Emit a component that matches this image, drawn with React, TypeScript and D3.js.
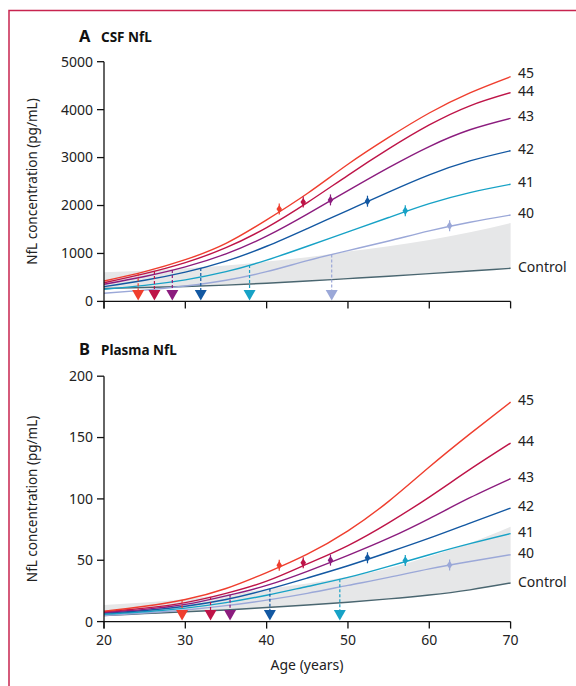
import React from "react";
import * as d3 from "d3";

const ages = [20, 25, 30, 35, 40, 45, 50, 55, 60, 65, 70];
const groups = ["45", "44", "43", "42", "41", "40"];
const colors = ["#ef3e2e", "#be1448", "#8b1c7e", "#1358a2", "#17a2c6", "#9ba8d8"];
const controlColor = "#4a6670";
const bandColor = "#e6e7e8";

const csf45 = [425, 620, 870, 1210, 1700, 2250, 2860, 3420, 3930, 4350, 4687];
const csf44 = [390, 580, 810, 1120, 1540, 2060, 2630, 3180, 3680, 4080, 4354];
const csf43 = [356, 520, 720, 990, 1360, 1820, 2310, 2790, 3230, 3580, 3819];
const csf42 = [307, 440, 610, 840, 1150, 1520, 1900, 2280, 2640, 2930, 3143];
const csf41 = [252, 335, 450, 620, 860, 1150, 1450, 1750, 2040, 2270, 2443];
const csf40 = [169, 235, 320, 440, 620, 850, 1060, 1260, 1470, 1650, 1802];
const csfControl = [270, 290, 310, 340, 380, 425, 475, 525, 580, 635, 690];
const csfBandUpper = [610, 640, 690, 750, 830, 920, 1040, 1150, 1280, 1440, 1635];

const pl45 = [8.5, 12.5, 18, 27, 40, 55, 74, 98, 126, 153, 178.9];
const pl44 = [8, 11, 15.5, 23, 33, 47, 62, 80.5, 101.5, 124, 145.5];
const pl43 = [7.5, 10, 14, 21, 29.5, 41, 54, 68, 84, 101, 116.5];
const pl42 = [7, 9, 12.5, 18, 26, 35.5, 45.5, 56.5, 68, 80.3, 92.5];
const pl41 = [6, 8, 11, 15.5, 21.5, 28.6, 36, 45, 54.5, 63.5, 71.7];
const pl40 = [5, 7, 9.5, 13, 17.5, 23, 29.5, 36, 43, 49, 54.5];
const plControl = [5, 6.5, 8, 9.5, 11.5, 13.5, 15.8, 18.5, 21.7, 25.9, 31.5];
const plBandUpper = [13.6, 15.5, 18.5, 22, 26.5, 31, 36.5, 43.5, 53, 64, 77.4];

const csfOnset = [24.2, 26.2, 28.4, 31.9, 37.9, 48.0];
const plOnset: (number | null)[] = [29.6, 33.1, 35.5, 40.4, 49.0, null];

const eyoAges = [41.55, 44.5, 47.85, 52.4, 57.05, 62.5];
const csfDiamond = [1925, 2071, 2117, 2090, 1890, 1579];
const plDiamond = [45.9, 48, 50.1, 52, 49.8, 46.2];

const csfTicks = [0, 1000, 2000, 3000, 4000, 5000];
const plTicks = [0, 50, 100, 150, 200];
const ageTicks = [20, 30, 40, 50, 60, 70];

const FONT = "'Noto Sans', 'Open Sans', sans-serif";

type PanelProps = {
  letter: string;
  title: string;
  series: number[][];
  control: number[];
  band: number[];
  onset: (number | null)[];
  diamonds: number[];
  yMax: number;
  yTicks: number[];
  y0: number;
  y1: number;
  titleY: number;
  showXLabels: boolean;
  labelShift: number[];
};

const x = d3.scaleLinear().domain([20, 70]).range([104, 510.6]);

function Panel(p: PanelProps) {
  const y = d3.scaleLinear().domain([0, p.yMax]).range([p.y0, p.y1]);
  const line = d3
    .line<number>()
    .x((_, i) => x(ages[i]))
    .y((d) => y(d))
    .curve(d3.curveNatural);
  const area = d3
    .area<number>()
    .x((_, i) => x(ages[i]))
    .y0((_, i) => y(p.control[i]))
    .y1((d) => y(d))
    .curve(d3.curveNatural);
  const interp = (vals: number[], a: number) =>
    d3.scaleLinear().domain(ages).range(vals)(a);
  const axisY = p.y0;
  const midY = (p.y0 + p.y1) / 2;

  return (
    <g>
      <text x={79} y={p.titleY} fontFamily={FONT} fontWeight={700} fontSize={16.5} fill="#111">
        {p.letter}
      </text>
      <text x={101} y={p.titleY} fontFamily={FONT} fontWeight={700} fontSize={13.5} fill="#111">
        {p.title}
      </text>
      <path d={area(p.band) || ""} fill={bandColor} />
      <path d={line(p.control) || ""} fill="none" stroke={controlColor} strokeWidth={1.4} />
      {p.series
        .map((s, i) => ({ s, i }))
        .reverse()
        .map(({ s, i }) => (
          <path key={i} d={line(s) || ""} fill="none" stroke={colors[i]} strokeWidth={1.4} />
        ))}
      {p.onset.map((a, i) => {
        if (a === null) return null;
        const cx = x(a);
        const top = y(interp(p.series[i], a));
        const triTop = axisY - 11.5;
        return (
          <g key={"on" + i}>
            <line x1={cx} x2={cx} y1={top} y2={triTop} stroke={colors[i]} strokeWidth={1.2} strokeDasharray="3,2" />
            <path
              d={`M${cx - 6},${triTop} L${cx + 6},${triTop} L${cx},${axisY - 1} Z`}
              fill={colors[i]}
            />
          </g>
        );
      })}
      {p.diamonds.map((v, i) => {
        const cx = x(eyoAges[i]);
        const cy = y(v);
        return (
          <g key={"dm" + i}>
            <line x1={cx} x2={cx} y1={cy - 5.5} y2={cy + 5.5} stroke={colors[i]} strokeWidth={1.2} />
            <path d={`M${cx},${cy - 4.2} L${cx + 2.8},${cy} L${cx},${cy + 4.2} L${cx - 2.8},${cy} Z`} fill={colors[i]} />
          </g>
        );
      })}
      <line x1={x(20)} x2={x(20)} y1={p.y1} y2={axisY + 7} stroke="#111" strokeWidth={1.3} />
      <line x1={x(20)} x2={x(70)} y1={axisY} y2={axisY} stroke="#111" strokeWidth={1.3} />
      {p.yTicks.map((t) => (
        <g key={"yt" + t}>
          <line x1={x(20) - 7} x2={x(20)} y1={y(t)} y2={y(t)} stroke="#111" strokeWidth={1.3} />
          <text
            x={x(20) - 11}
            y={y(t)}
            dy="0.35em"
            textAnchor="end"
            fontFamily={FONT}
            fontSize={14}
            fill="#222"
          >
            {t}
          </text>
        </g>
      ))}
      {ageTicks.map((t) => (
        <g key={"xt" + t}>
          <line x1={x(t)} x2={x(t)} y1={axisY} y2={axisY + 7} stroke="#111" strokeWidth={1.3} />
          {p.showXLabels && (
            <text x={x(t)} y={axisY + 23} textAnchor="middle" fontFamily={FONT} fontSize={14} fill="#222">
              {t}
            </text>
          )}
        </g>
      ))}
      <text
        transform={`translate(32,${midY}) rotate(-90)`}
        textAnchor="middle"
        dy="0.35em"
        fontFamily={FONT}
        fontSize={13.5}
        fill="#222"
      >
        NfL concentration (pg/mL)
      </text>
      {p.series.map((s, i) => (
        <text
          key={"lb" + i}
          x={518}
          y={y(s[s.length - 1]) - 2 + p.labelShift[i]}
          dy="0.35em"
          fontFamily={FONT}
          fontSize={14}
          fill="#222"
        >
          {groups[i]}
        </text>
      ))}
      <text
        x={518}
        y={y(p.control[p.control.length - 1]) - 1}
        dy="0.35em"
        fontFamily={FONT}
        fontSize={14}
        fill="#222"
      >
        Control
      </text>
    </g>
  );
}

export default function App() {
  return (
    <svg
      width={576}
      height={686}
      viewBox="0 0 576 686"
      style={{ position: "absolute", left: 0, top: 0, background: "#fff" }}
    >
      <rect x={0} y={0} width={576} height={686} fill="#fff" />
      <path d="M9,686 V10.5 H576" fill="none" stroke="#c8244f" strokeWidth={1.5} />
      <Panel
        letter="A"
        title="CSF NfL"
        series={[csf45, csf44, csf43, csf42, csf41, csf40]}
        control={csfControl}
        band={csfBandUpper}
        onset={csfOnset}
        diamonds={csfDiamond}
        yMax={5000}
        yTicks={csfTicks}
        y0={301.4}
        y1={61.7}
        titleY={42}
        showXLabels={false}
        labelShift={[-1.5, 0.5, 0, 0, 0, 0]}
      />
      <Panel
        letter="B"
        title="Plasma NfL"
        series={[pl45, pl44, pl43, pl42, pl41, pl40]}
        control={plControl}
        band={plBandUpper}
        onset={plOnset}
        diamonds={plDiamond}
        yMax={200}
        yTicks={plTicks}
        y0={621.6}
        y1={376.2}
        titleY={355}
        showXLabels={true}
        labelShift={[0, 0, 0, 0, 0, 0]}
      />
      <text x={307} y={670} textAnchor="middle" fontFamily={FONT} fontSize={14} fill="#222">
        Age (years)
      </text>
    </svg>
  );
}
